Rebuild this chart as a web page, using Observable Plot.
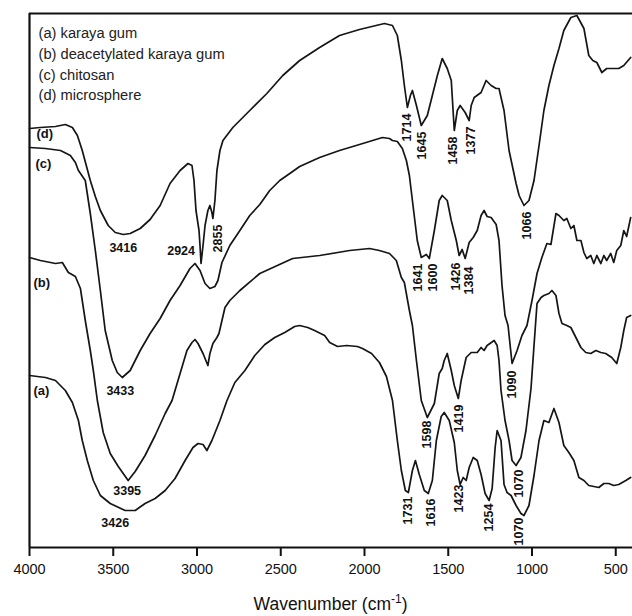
<!DOCTYPE html>
<html><head><meta charset="utf-8">
<script src="https://cdn.jsdelivr.net/npm/d3@7"></script>
<script src="https://cdn.jsdelivr.net/npm/@observablehq/plot@0.6"></script>
<style>
body{margin:0;background:#fff;font-family:"Liberation Sans",Arial,sans-serif;}
#cap{margin-left:29px;width:603px;text-align:center;font-size:17.5px;line-height:33px;color:#111;}
#cap sup{font-size:12px;line-height:0;}
</style></head><body><div id="chart"></div><div id="cap">Wavenumber (cm<sup>-1</sup>)</div>
<script>
// Wavenumber (cm-1), transmittance (arbitrary units, offset traces)
const curveA = [[4000,34.4],[3905,34],[3845,33.4],[3786,31.4],[3744,29],[3708,25.4],[3685,21.4],[3655,17.4],[3619,13.4],[3577,10.4],[3518,8.8],[3429,7.4],[3369,7.4],[3310,8.8],[3250,9.8],[3190,11.4],[3131,13.8],[3071,17.4],[3024,20],[2994,20.8],[2964,20.6],[2941,19.4],[2911,21.4],[2863,25.4],[2821,29.4],[2774,33],[2714,35.4],[2655,38.4],[2595,40.6],[2536,42],[2476,43],[2417,44.2],[2387,44.4],[2339,44],[2298,43.4],[2238,42.4],[2208,41],[2161,40.2],[2107,40.4],[2042,40.2],[2012,39.8],[1958,38.8],[1911,37],[1869,34.2],[1833,29.4],[1804,21.4],[1780,15.4],[1756,11.4],[1738,11],[1714,15.4],[1696,17.4],[1673,14.6],[1643,11.4],[1619,10.8],[1595,13.4],[1571,21.4],[1542,26.2],[1524,27],[1494,25.4],[1464,21],[1446,15.4],[1429,12.6],[1411,14],[1393,13.4],[1375,16],[1351,18],[1327,17.4],[1304,14.6],[1280,10.8],[1256,9.4],[1238,11.8],[1220,20],[1208,23.4],[1185,21.4],[1167,12.6],[1149,11],[1125,10.4],[1095,8.4],[1066,6.8],[1048,6.4],[1018,8.4],[988,14.4],[958,21.4],[929,25.4],[899,25],[869,27.8],[839,25],[810,20.4],[780,19],[750,17.4],[720,14],[690,13.4],[661,12.4],[601,12],[571,12.8],[542,12.8],[512,12.4],[482,12.6],[440,13.4],[411,14]];
const curveB = [[4000,58],[3935,57.4],[3845,56.8],[3804,57],[3768,55],[3726,54.2],[3696,51.8],[3667,45.4],[3637,39.4],[3619,35.4],[3595,29.4],[3560,23],[3518,18.8],[3470,16.2],[3411,13.4],[3369,15.2],[3310,18.4],[3250,22.4],[3190,26.8],[3149,29.4],[3101,34.8],[3060,39.4],[3030,41],[3012,41.6],[2994,40.8],[2964,38.8],[2935,36.4],[2923,38.8],[2905,40.8],[2881,42],[2869,42.8],[2851,45.4],[2833,48],[2804,49.4],[2744,51.4],[2625,54.8],[2429,57.8],[2268,58.4],[2089,59.4],[1970,59.8],[1911,59.4],[1851,58.8],[1810,57.4],[1780,54],[1762,53],[1732,47.4],[1714,44.4],[1690,37.4],[1661,29.4],[1625,26],[1583,28.8],[1554,34.8],[1536,35.8],[1524,37.4],[1506,38.8],[1482,35.4],[1464,32.4],[1440,29.8],[1423,33.4],[1393,38],[1363,39],[1327,39],[1304,40],[1286,39.4],[1268,40.4],[1226,41.4],[1208,40.4],[1197,37.4],[1185,31.4],[1161,25.4],[1137,21.4],[1119,17.4],[1095,16.4],[1066,18],[1036,23.4],[1006,31.8],[988,40.4],[970,48.8],[946,50],[929,50.4],[899,50.8],[881,51.4],[857,50.4],[839,46.8],[821,44.8],[792,44.4],[768,44],[738,42],[708,40],[679,39],[649,38.8],[619,39.4],[589,39],[560,38.8],[524,38],[494,36.8],[470,40],[452,43.4],[435,46],[411,46.4]];
const curveC = [[4000,80],[3905,79.8],[3815,79.4],[3756,78.4],[3726,77],[3708,75.4],[3667,73.4],[3637,66.8],[3607,59.4],[3577,51.4],[3548,43.4],[3506,37.4],[3476,35],[3446,34],[3399,35.4],[3339,39.4],[3280,42.8],[3220,45.8],[3161,49.4],[3101,52.4],[3042,55.8],[3012,56.8],[2982,55.4],[2952,52.8],[2923,51.8],[2893,52.2],[2875,53.4],[2851,57],[2804,60.4],[2744,63.4],[2685,66.4],[2625,68.6],[2566,71.4],[2506,73.4],[2446,74.8],[2387,76.2],[2268,78],[2149,79.4],[2030,80.6],[1893,82],[1851,81.8],[1833,81.4],[1804,81.2],[1774,79.8],[1750,77.4],[1732,74.4],[1714,69.4],[1685,61.4],[1661,58],[1631,58.6],[1613,57.8],[1583,63.4],[1554,69.4],[1536,70.4],[1506,69.4],[1482,65.4],[1452,61.4],[1435,58.4],[1417,59.6],[1399,57.8],[1375,61],[1351,62],[1327,63.4],[1304,66.4],[1286,67.4],[1268,66.2],[1244,66],[1214,64.6],[1197,61.4],[1179,52.4],[1161,46.4],[1143,44.4],[1119,36.8],[1089,39.4],[1060,42.4],[1030,44.4],[1000,49.4],[970,54.8],[941,58],[911,60.8],[887,60.6],[857,66.8],[839,66.4],[810,65.4],[792,65.8],[768,63.8],[750,64.4],[732,61.4],[708,61.4],[690,59],[673,57.8],[649,58.4],[631,56.8],[613,58.4],[589,56.8],[571,58.4],[554,57.4],[530,58.8],[512,57],[494,59.4],[470,60.4],[452,63.4],[435,62.2],[411,66]];
const curveD = [[4000,83.8],[3935,84],[3845,84.2],[3786,84.6],[3744,84],[3714,82.4],[3685,79.4],[3661,76.4],[3637,73.4],[3607,70.2],[3577,67.4],[3530,64.4],[3488,63],[3440,62.6],[3399,62.8],[3339,63.8],[3280,65.6],[3220,68.4],[3161,72.8],[3101,75.4],[3054,76.8],[3030,76.4],[3018,73.4],[3006,67.4],[2988,63.4],[2982,60.4],[2976,56.8],[2964,60.4],[2952,64.4],[2935,67.4],[2923,68.4],[2911,67],[2905,65.8],[2893,69.4],[2881,75.4],[2863,79.4],[2845,81.4],[2786,84],[2685,87.4],[2583,90.8],[2488,94.4],[2387,97.4],[2268,100],[2149,102.4],[2030,103.6],[1881,104.8],[1833,104.4],[1804,102.4],[1780,97.4],[1762,92.4],[1744,88],[1726,90.4],[1714,91.4],[1690,88.4],[1661,84.4],[1625,86.4],[1595,90.4],[1565,94.4],[1536,97.8],[1506,95.8],[1482,93.4],[1464,83.4],[1446,87.4],[1429,88.4],[1399,87],[1375,85.4],[1363,88.4],[1345,90],[1304,91],[1274,93.4],[1244,92.4],[1214,91.8],[1197,91.8],[1167,87.4],[1137,79.4],[1095,72.8],[1077,70.4],[1048,68.4],[1018,69.4],[988,73.4],[958,80.4],[929,87.4],[899,92.4],[869,96.4],[839,99.8],[810,103.4],[768,106],[732,106.4],[690,103.8],[661,98.4],[637,97.4],[613,97],[583,95],[554,95.8],[530,95.8],[482,95.8],[452,96.4],[411,98]];

const curveNames = ["(a)","(b)","(c)","(d)"];
const curveLabelAt = [[3976,31.4],[3976,53],[3964,76.8],[3958,82.8]];
const legendLines = ["(a) karaya gum","(b) deacetylated karaya gum","(c) chitosan","(d) microsphere"];
const xTicks = [4000,3500,3000,2500,2000,1500,1000,500];

// peak annotations: text, wavenumber, transmittance
const peakH = [["3416",3440,60],["2924",3095,59.4],["3433",3458,31.4],["3395",3417,11.4],["3426",3488,5]];
const peakV = [["2855",2875,61.8],["1714",1744,84],["1645",1655,80.4],["1458",1470,79.4],["1377",1363,81.4],["1066",1030,64.4],
  ["1641",1679,54],["1600",1589,54],["1426",1452,54.2],["1384",1375,53.4],["1090",1119,32.6],
  ["1598",1625,22.6],["1419",1435,25.8],["1070",1077,12.8],
  ["1731",1738,7.4],["1616",1601,7],["1423",1435,9.8],["1254",1256,6],["1070",1077,3.2]];

const series = [curveA, curveB, curveC, curveD];
const rows = series.flatMap((s, i) => s.map(([wn, t]) => ({wn, t, curve: curveNames[i]})));
const TOP = 106.8;
const font = "'Liberation Sans', Arial, sans-serif";

const chart = Plot.plot({
  width: 632, height: 588,
  marginLeft: 29, marginRight: 0, marginTop: 13, marginBottom: 41,
  style: {fontFamily: font, background: "#fff", color: "#111"},
  x: {domain: [4000, 400], label: null},
  y: {domain: [0, TOP], axis: null},
  marks: [
    Plot.line(rows, {x: "wn", y: "t", z: "curve", stroke: "#151515", strokeWidth: 1.7}),
    Plot.ruleY([0], {strokeWidth: 2.2, stroke: "#111"}),
    Plot.ruleY([TOP], {strokeWidth: 2.2, stroke: "#111"}),
    Plot.ruleX([4000], {strokeWidth: 2.2, stroke: "#111"}),
    Plot.axisX({ticks: xTicks, tickFormat: "d", tickSize: 9, tickPadding: 7, fontSize: 14.5, strokeWidth: 2, label: null}),
    Plot.text(peakH, {x: d => d[1], y: d => d[2], text: d => d[0], fontSize: 12.5, fontWeight: "bold", textAnchor: "middle", fill: "#111"}),
    Plot.text(peakV, {x: d => d[1], y: d => d[2], text: d => d[0], fontSize: 12.5, fontWeight: "bold", rotate: -90, textAnchor: "middle", fill: "#111"}),
    Plot.text(curveLabelAt, {x: d => d[0], y: d => d[1], text: (d, i) => curveNames[i], fontSize: 13, fontWeight: "bold", textAnchor: "start", fill: "#111"}),
    Plot.text([legendLines.join("\n")], {frameAnchor: "top-left", dx: 9, dy: 10, fontSize: 14.7, lineHeight: 1.41, textAnchor: "start", fill: "#222"})
  ]
});
document.getElementById("chart").append(chart);
</script></body></html>
